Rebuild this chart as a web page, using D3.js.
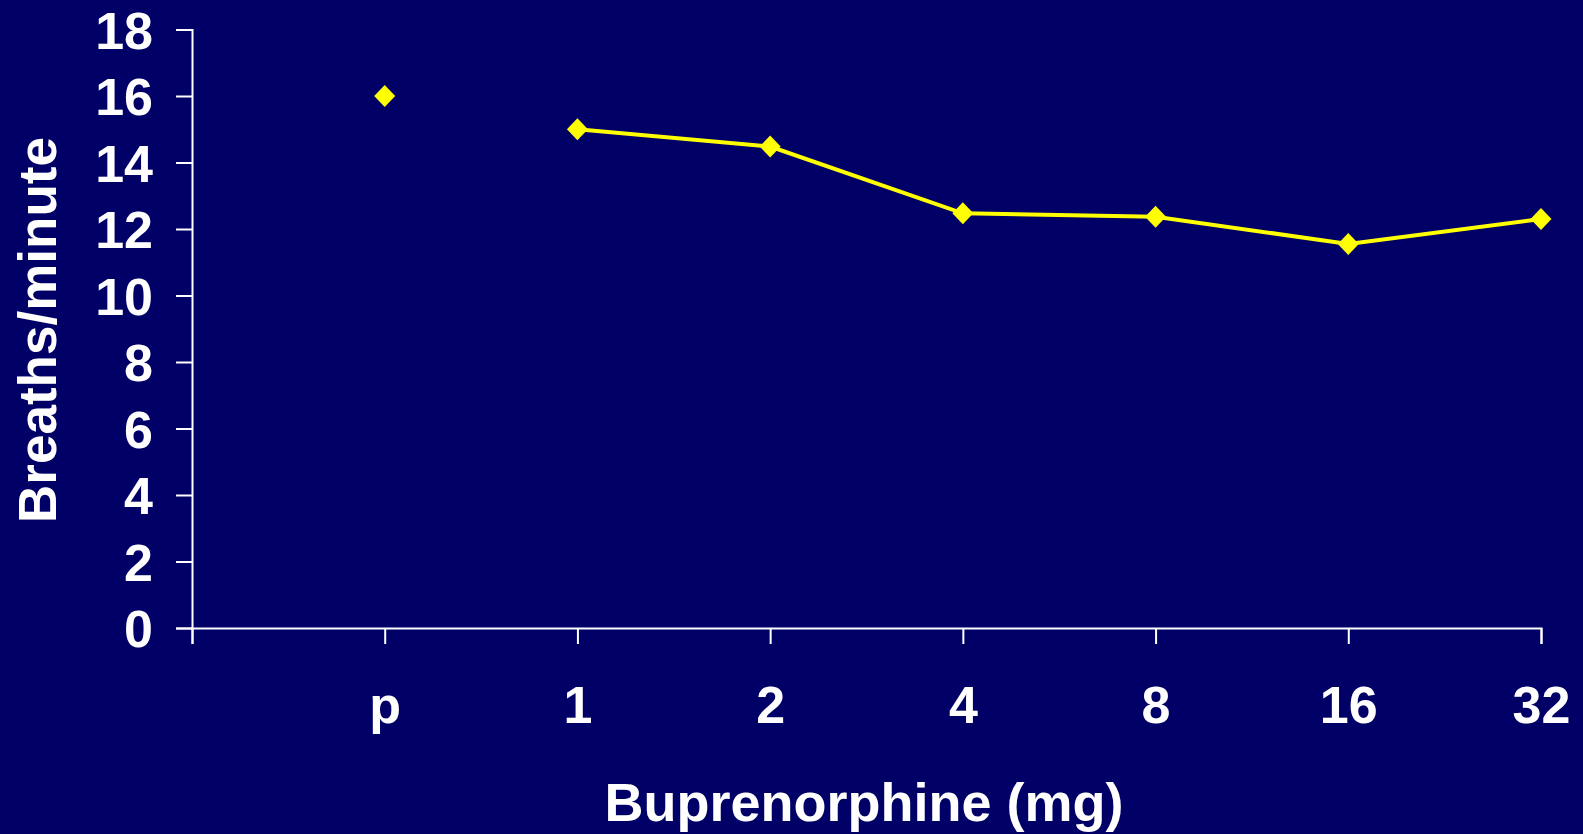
<!DOCTYPE html>
<html><head><meta charset="utf-8">
<script src="https://cdn.jsdelivr.net/npm/d3@7"></script>
<style>html,body{margin:0;padding:0;background:#000066;overflow:hidden}</style>
</head><body>
<svg id="c" width="1583" height="834"></svg>
<script>
const categories = ["p","1","2","4","8","16","32"];
const values = [16, 15, 14.48, 12.47, 12.37, 11.55, 12.3];
const yTicks = [0,2,4,6,8,10,12,14,16,18];
const xTitle = "Buprenorphine (mg)";
const yTitle = "Breaths/minute";

(function(){
const svg = d3.select("#c");
const W = 1583, H = 834;
svg.append("rect").attr("width", W).attr("height", H).attr("fill", "#000066");

const mLeft = 192, mRight = 1541, mTop = 29.5, mBottom = 628;
const x = d3.scaleLinear().domain([0, categories.length]).range([mLeft, mRight]);
const y = d3.scaleLinear().domain([0, 18]).range([mBottom, mTop]);
const font = "'Liberation Sans', Arial, sans-serif";

// y axis
const ya = svg.append("g").attr("transform", `translate(${mLeft},0)`)
  .call(d3.axisLeft(y).tickValues(yTicks).tickSize(16).tickPadding(23).tickFormat(d3.format("d")));
ya.select(".domain").attr("stroke", "#fff").attr("stroke-width", 2);
ya.selectAll(".tick line").attr("stroke", "#fff").attr("stroke-width", 2);
ya.selectAll(".tick text").attr("fill", "#fff").attr("font-family", font)
  .attr("font-weight", "bold").attr("font-size", 52).attr("dy", "0.36em");

// x axis
const xIdx = d3.range(0, categories.length + 1);
const xa = svg.append("g").attr("transform", `translate(0,${mBottom})`)
  .call(d3.axisBottom(x).tickValues(xIdx).tickSize(16).tickPadding(0)
    .tickFormat(i => i === 0 ? "" : categories[i - 1]));
xa.select(".domain").attr("stroke", "#fff").attr("stroke-width", 2);
xa.selectAll(".tick line").attr("stroke", "#fff").attr("stroke-width", 2);
xa.selectAll(".tick text").attr("fill", "#fff").attr("font-family", font)
  .attr("font-weight", "bold").attr("font-size", 52).attr("y", 95).attr("dy", 0);

// line (doses only, placebo not connected)
const pts = categories.map((c, i) => ({c, v: values[i], i: i + 1}));
const line = d3.line().x(d => x(d.i)).y(d => y(d.v));
svg.append("path").datum(pts.slice(1))
  .attr("d", line).attr("fill", "none").attr("stroke", "#ffff00").attr("stroke-width", 4);

// diamond markers
svg.selectAll(".mk").data(pts).enter().append("path")
  .attr("class", "mk")
  .attr("d", "M0,-11L10.5,0L0,11L-10.5,0Z")
  .attr("transform", d => `translate(${x(d.i)},${y(d.v)})`)
  .attr("fill", "#ffff00");

// titles
svg.append("text").attr("x", 864).attr("y", 821).attr("text-anchor", "middle")
  .attr("fill", "#fff").attr("font-family", font).attr("font-weight", "bold")
  .attr("font-size", 54).text(xTitle);
svg.append("text").attr("transform", "translate(56,330) rotate(-90)")
  .attr("text-anchor", "middle")
  .attr("fill", "#fff").attr("font-family", font).attr("font-weight", "bold")
  .attr("font-size", 53).text(yTitle);
})();
</script>
</body></html>
